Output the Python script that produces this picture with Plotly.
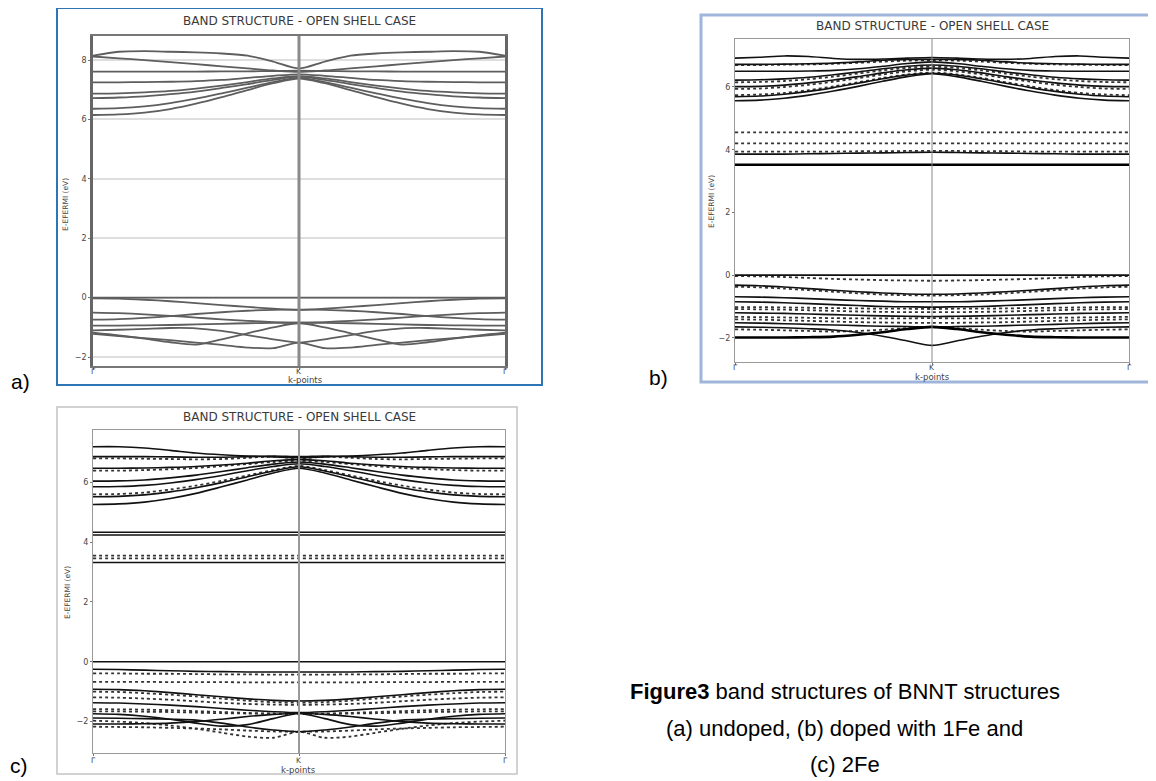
import plotly.graph_objects as go

W, H = 1156, 781
OFF = 8                     # default page body margin of the html page
FW, FH = W - OFF, H - OFF   # figure size that fits the window

# k-path samples from Gamma (0) to K (1); path is Gamma-K-Gamma (mirrored)
K_HALF = [0, 0.125, 0.25, 0.375, 0.5, 0.625, 0.75, 0.875, 1.0]
K_TICKS = [0, 1, 2]
K_LABELS = ["Γ", "K", "Γ"]
TITLE = "BAND STRUCTURE - OPEN SHELL CASE"
YTITLE = "E-EFERMI (eV)"
XTITLE = "k-points"

# ---- panel (a): undoped ----
A_TICKS = [-2, 0, 2, 4, 6, 8]
A_BANDS = [
    [8.15, 8.28, 8.30, 8.28, 8.26, 8.22, 8.15, 7.95, 7.72],
    [8.12, 8.06, 8.00, 7.93, 7.86, 7.79, 7.72, 7.65, 7.60],
    [7.61, 7.61, 7.61, 7.61, 7.61, 7.62, 7.62, 7.63, 7.64],
    [7.25, 7.25, 7.26, 7.27, 7.29, 7.33, 7.40, 7.47, 7.52],
    [6.87, 6.88, 6.91, 6.96, 7.04, 7.14, 7.26, 7.38, 7.46],
    [6.72, 6.74, 6.78, 6.85, 6.94, 7.06, 7.19, 7.33, 7.44],
    [6.36, 6.38, 6.44, 6.55, 6.70, 6.88, 7.07, 7.26, 7.40],
    [6.15, 6.17, 6.23, 6.35, 6.53, 6.75, 6.99, 7.22, 7.38],
    [0.00, 0.00, 0.00, 0.00, 0.00, 0.00, 0.00, 0.00, 0.00],
    [-0.02, -0.03, -0.07, -0.12, -0.18, -0.25, -0.31, -0.37, -0.41],
    [-0.50, -0.52, -0.56, -0.61, -0.67, -0.73, -0.78, -0.82, -0.84],
    [-0.74, -0.72, -0.68, -0.62, -0.55, -0.49, -0.44, -0.41, -0.40],
    [-0.94, -0.94, -0.93, -0.92, -0.90, -0.88, -0.86, -0.85, -0.84],
    [-1.18, -1.27, -1.38, -1.50, -1.58, -1.40, -1.20, -1.00, -0.86],
    [-1.22, -1.29, -1.36, -1.43, -1.51, -1.59, -1.68, -1.70, -1.51],
    [-1.10, -1.08, -1.05, -1.02, -1.03, -1.12, -1.26, -1.40, -1.51],
]

# ---- panel (b): doped with 1Fe ----  (solid = spin up, dotted = spin down)
B_TICKS = [-2, 0, 2, 4, 6]
B_SOLID = [
    [6.92, 6.95, 6.99, 6.97, 6.91, 6.88, 6.89, 6.92, 6.94],
    [6.72, 6.72, 6.73, 6.74, 6.76, 6.80, 6.85, 6.88, 6.88],
    [6.50, 6.50, 6.50, 6.51, 6.53, 6.58, 6.66, 6.75, 6.80],
    [6.22, 6.23, 6.26, 6.31, 6.39, 6.48, 6.58, 6.66, 6.70],
    [6.01, 6.02, 6.06, 6.13, 6.22, 6.33, 6.45, 6.55, 6.60],
    [5.69, 5.71, 5.77, 5.86, 5.98, 6.12, 6.26, 6.38, 6.44],
    [5.56, 5.58, 5.64, 5.74, 5.87, 6.02, 6.18, 6.33, 6.42],
    [3.86, 3.86, 3.86, 3.87, 3.88, 3.89, 3.90, 3.91, 3.92],
    [0.00, 0.00, 0.00, 0.00, 0.00, 0.00, 0.00, 0.00, 0.00],
    [-0.32, -0.34, -0.38, -0.43, -0.48, -0.53, -0.57, -0.60, -0.61],
    [-0.69, -0.70, -0.72, -0.75, -0.78, -0.81, -0.83, -0.85, -0.85],
    [-0.85, -0.86, -0.88, -0.91, -0.94, -0.97, -1.00, -1.01, -1.02],
    [-1.20, -1.21, -1.22, -1.24, -1.26, -1.28, -1.30, -1.31, -1.32],
    [-1.52, -1.53, -1.55, -1.57, -1.59, -1.61, -1.63, -1.64, -1.65],
    [-1.65, -1.66, -1.68, -1.71, -1.75, -1.83, -1.95, -2.10, -2.24],
]
B_SOLID_HEAVY = [
    [3.52, 3.52, 3.52, 3.52, 3.52, 3.52, 3.52, 3.52, 3.52],
    [-1.99, -1.99, -1.99, -1.98, -1.96, -1.90, -1.82, -1.72, -1.65],
]
B_DOTTED = [
    [6.70, 6.70, 6.71, 6.72, 6.74, 6.77, 6.81, 6.84, 6.85],
    [6.15, 6.16, 6.19, 6.25, 6.33, 6.43, 6.53, 6.61, 6.65],
    [5.94, 5.95, 6.00, 6.07, 6.17, 6.28, 6.40, 6.50, 6.55],
    [5.74, 5.76, 5.81, 5.90, 6.02, 6.15, 6.29, 6.40, 6.46],
    [4.55, 4.55, 4.55, 4.55, 4.55, 4.55, 4.55, 4.55, 4.55],
    [4.20, 4.20, 4.20, 4.20, 4.20, 4.20, 4.20, 4.20, 4.20],
    [3.94, 3.94, 3.94, 3.94, 3.94, 3.95, 3.95, 3.96, 3.96],
    [-0.03, -0.04, -0.06, -0.09, -0.12, -0.14, -0.16, -0.17, -0.18],
    [-0.37, -0.39, -0.43, -0.48, -0.53, -0.58, -0.62, -0.64, -0.65],
    [-1.02, -1.02, -1.03, -1.04, -1.05, -1.06, -1.07, -1.07, -1.08],
    [-1.08, -1.09, -1.10, -1.12, -1.14, -1.16, -1.17, -1.18, -1.18],
    [-1.33, -1.34, -1.35, -1.36, -1.37, -1.38, -1.38, -1.38, -1.37],
    [-1.41, -1.42, -1.44, -1.46, -1.48, -1.50, -1.51, -1.52, -1.52],
    [-1.73, -1.74, -1.76, -1.78, -1.80, -1.78, -1.74, -1.69, -1.66],
]

# ---- panel (c): doped with 2Fe ----
C_TICKS = [-2, 0, 2, 4, 6]
C_SOLID = [
    [7.19, 7.19, 7.15, 7.07, 6.98, 6.92, 6.88, 6.85, 6.82],
    [6.86, 6.86, 6.86, 6.85, 6.84, 6.84, 6.86, 6.88, 6.86],
    [6.47, 6.47, 6.48, 6.50, 6.53, 6.58, 6.64, 6.72, 6.76],
    [6.04, 6.05, 6.08, 6.15, 6.24, 6.36, 6.49, 6.61, 6.68],
    [5.85, 5.86, 5.90, 5.98, 6.09, 6.23, 6.39, 6.53, 6.62],
    [5.52, 5.53, 5.58, 5.68, 5.82, 5.99, 6.19, 6.38, 6.52],
    [5.26, 5.28, 5.34, 5.46, 5.63, 5.85, 6.08, 6.31, 6.47],
    [4.33, 4.33, 4.33, 4.33, 4.33, 4.33, 4.33, 4.33, 4.33],
    [4.24, 4.24, 4.24, 4.24, 4.24, 4.24, 4.24, 4.24, 4.24],
    [3.32, 3.32, 3.32, 3.32, 3.32, 3.32, 3.32, 3.32, 3.32],
    [0.00, 0.00, 0.00, 0.00, 0.00, 0.00, 0.00, 0.00, 0.00],
    [-0.25, -0.26, -0.28, -0.30, -0.32, -0.33, -0.34, -0.34, -0.34],
    [-0.92, -0.93, -0.97, -1.03, -1.10, -1.17, -1.24, -1.29, -1.31],
    [-1.37, -1.38, -1.41, -1.45, -1.50, -1.56, -1.62, -1.67, -1.70],
    [-1.74, -1.76, -1.82, -1.92, -2.05, -2.15, -2.10, -1.90, -1.73],
    [-1.88, -1.89, -1.90, -1.92, -1.95, -2.05, -2.18, -2.28, -2.34],
    [-2.08, -2.08, -2.07, -2.05, -2.00, -1.92, -1.83, -1.76, -1.72],
]
C_DOTTED = [
    [6.80, 6.80, 6.79, 6.78, 6.77, 6.78, 6.82, 6.86, 6.80],
    [6.39, 6.39, 6.41, 6.44, 6.48, 6.54, 6.61, 6.68, 6.72],
    [5.60, 5.61, 5.66, 5.76, 5.89, 6.05, 6.23, 6.41, 6.55],
    [3.55, 3.55, 3.55, 3.55, 3.55, 3.55, 3.55, 3.55, 3.55],
    [3.46, 3.46, 3.46, 3.46, 3.46, 3.46, 3.46, 3.46, 3.46],
    [-0.39, -0.39, -0.40, -0.40, -0.41, -0.42, -0.42, -0.43, -0.43],
    [-0.67, -0.67, -0.67, -0.68, -0.68, -0.68, -0.69, -0.69, -0.69],
    [-1.00, -1.01, -1.05, -1.10, -1.16, -1.23, -1.30, -1.35, -1.37],
    [-1.19, -1.20, -1.23, -1.27, -1.32, -1.37, -1.41, -1.43, -1.44],
    [-1.58, -1.59, -1.60, -1.62, -1.65, -1.68, -1.71, -1.73, -1.73],
    [-1.66, -1.66, -1.67, -1.68, -1.70, -1.72, -1.73, -1.74, -1.74],
    [-1.97, -2.00, -2.05, -2.13, -2.24, -2.37, -2.50, -2.54, -2.34],
    [-2.17, -2.18, -2.19, -2.21, -2.23, -2.26, -2.30, -2.33, -2.34],
]

CAPTION_1 = "<b>Figure3</b> band structures of BNNT structures"
CAPTION_2 = "(a) undoped, (b) doped with 1Fe and"
CAPTION_3 = "(c) 2Fe"


def px_x(p):
    return (p - OFF) / FW


def px_y(p):
    return 1 - (p - OFF) / FH


def full_path(vals):
    xs = K_HALF + [2 - t for t in reversed(K_HALF[:-1])]
    ys = list(vals) + list(reversed(vals[:-1]))
    return xs, ys


fig = go.Figure()


def add_band(vals, xa, ya, color, width, dash="solid"):
    xs, ys = full_path(vals)
    fig.add_trace(go.Scatter(
        x=xs, y=ys, mode="lines", xaxis=xa, yaxis=ya, showlegend=False,
        hoverinfo="skip",
        line=dict(color=color, width=width, dash=dash, shape="spline", smoothing=0.8),
    ))


for b in A_BANDS:
    add_band(b, "x", "y", "#5e5e5e", 1.8)
for b in B_DOTTED:
    add_band(b, "x2", "y2", "#333333", 1.8, "dot")
for b in B_SOLID:
    add_band(b, "x2", "y2", "#111111", 1.6)
for b in B_SOLID_HEAVY:
    add_band(b, "x2", "y2", "#000000", 2.6)
for b in C_DOTTED:
    add_band(b, "x3", "y3", "#333333", 1.8, "dot")
for b in C_SOLID:
    add_band(b, "x3", "y3", "#111111", 1.6)

# panel geometry (reference pixels)
PANELS = {
    "a": dict(x0=93, x1=505, y0=36, y1=366, yr=[-2.30, 8.81], ticks=A_TICKS,
              title_y=21, klab_y=371, kt=(305, 380), yt=(65, 205)),
    "b": dict(x0=735, x1=1129, y0=39, y1=362, yr=[-2.77, 7.53], ticks=B_TICKS,
              title_y=26, klab_y=367, kt=(932, 377), yt=(711, 202)),
    "c": dict(x0=93, x1=505, y0=430, y1=753, yr=[-3.05, 7.75], ticks=C_TICKS,
              title_y=417, klab_y=760, kt=(298, 770), yt=(67, 593)),
}
axis_ids = {"a": ("xaxis", "yaxis", "x", "y"),
            "b": ("xaxis2", "yaxis2", "x2", "y2"),
            "c": ("xaxis3", "yaxis3", "x3", "y3")}

tick_font = dict(family="DejaVu Sans", size=8, color="#444")
layout_axes = {}
for key, p in PANELS.items():
    xa, ya, xr, yr_ = axis_ids[key]
    panel_a = key == "a"
    layout_axes[xa] = dict(
        domain=[px_x(p["x0"]), px_x(p["x1"])], anchor=yr_, range=[0, 2],
        tickvals=K_TICKS, showticklabels=False,
        showgrid=False, zeroline=False, showline=True, mirror=True,
        linecolor="#777" if panel_a else "#999", linewidth=2 if panel_a else 1,
        ticks="outside", ticklen=2, tickcolor="#777",
    )
    layout_axes[ya] = dict(
        domain=[px_y(p["y1"]), px_y(p["y0"])], anchor=xr, range=p["yr"],
        tickvals=p["ticks"], tickfont=tick_font,
        showgrid=panel_a, gridcolor="#dedede", gridwidth=1.5,
        zeroline=False, showline=True, mirror=True,
        linecolor="#666" if panel_a else "#999", linewidth=2.5 if panel_a else 1,
        ticks="outside", ticklen=2, tickcolor="#777",
    )

shapes = []
# K vertical lines
shapes.append(dict(type="line", xref="x", yref="y domain", x0=1, x1=1, y0=0, y1=1,
                   line=dict(color="#8a8a8a", width=3)))
shapes.append(dict(type="line", xref="x2", yref="y2 domain", x0=1, x1=1, y0=0, y1=1,
                   line=dict(color="#888", width=1)))
shapes.append(dict(type="line", xref="x3", yref="y3 domain", x0=1, x1=1, y0=0, y1=1,
                   line=dict(color="#999", width=2)))
# panel frames
frames = [
    (57, 8, 542, 385, "#2E75B6", 2),
    (701, 15, 1155, 382, "#9FB6DA", 3),
    (57, 407, 517, 774, "#C4C4C4", 1.5),
]
for x0, y0, x1, y1, col, w in frames:
    shapes.append(dict(type="rect", xref="paper", yref="paper",
                       x0=px_x(x0), x1=px_x(x1), y0=px_y(y1), y1=px_y(y0),
                       line=dict(color=col, width=w), fillcolor="rgba(0,0,0,0)"))

annotations = []


def ann(text, x, y, size, color="#000", family="Liberation Sans, Arial", angle=0,
        xanchor="center"):
    annotations.append(dict(text=text, x=px_x(x), y=px_y(y), xref="paper", yref="paper",
                            showarrow=False, xanchor=xanchor, yanchor="middle",
                            font=dict(family=family, size=size, color=color),
                            textangle=angle, borderpad=0))


for key, p in PANELS.items():
    cx = (p["x0"] + p["x1"]) / 2
    ann(TITLE, cx, p["title_y"], 12, "#3a3a3a", "DejaVu Sans")
    ann(YTITLE, p["yt"][0], p["yt"][1], 7.5, "#444", "DejaVu Sans", -90)
    ann(XTITLE, p["kt"][0], p["kt"][1], 8.5, "#444", "DejaVu Sans")
    for kv, kl in zip(K_TICKS, K_LABELS):
        kx = p["x0"] + (p["x1"] - p["x0"]) * kv / 2
        ann(kl, kx, p["klab_y"], 7.5, "#444", "DejaVu Sans")

# panel letters
ann("a)", 20, 381, 21)
ann("b)", 659, 378, 21)
ann("c)", 19, 765, 21)
# caption
ann(CAPTION_1, 845, 691, 22)
ann(CAPTION_2, 845, 728, 22)
ann(CAPTION_3, 845, 764, 22)

fig.update_layout(
    width=FW, height=FH, autosize=False,
    margin=dict(l=0, r=0, t=0, b=0),
    paper_bgcolor="white", plot_bgcolor="white",
    showlegend=False, shapes=shapes, annotations=annotations,
    **layout_axes,
)

fig.write_html("out.html")
